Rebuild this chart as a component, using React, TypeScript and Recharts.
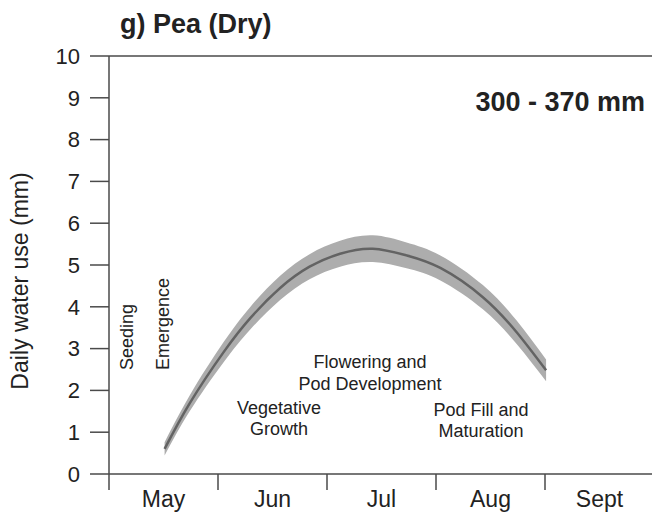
import React from "react";
import {
  ComposedChart,
  Area,
  Line,
  XAxis,
  YAxis,
  ReferenceLine,
} from "recharts";

// months along the x axis (0 = start of May)
const monthNames = ["May", "Jun", "Jul", "Aug", "Sept"];
const monthTicks = [0, 0.5, 1, 1.5, 2, 2.5, 3, 3.5, 4, 4.5, 5];
const yTicks = [0, 1, 2, 3, 4, 5, 6, 7, 8, 9, 10];

// daily water use curve
const waterX = [0.51, 0.74, 1.05, 1.3, 1.57, 1.84, 2.12, 2.42, 2.73, 3.04, 3.43, 3.74, 4.01];
const waterMean = [0.6, 1.69, 2.91, 3.74, 4.45, 4.96, 5.27, 5.39, 5.23, 4.93, 4.23, 3.39, 2.48];
const waterLow = [0.44, 1.5, 2.67, 3.47, 4.16, 4.66, 4.96, 5.07, 4.92, 4.63, 3.94, 3.11, 2.22];
const waterHigh = [0.76, 1.88, 3.15, 4.01, 4.74, 5.26, 5.58, 5.71, 5.54, 5.23, 4.52, 3.67, 2.74];

const data = waterX.map((x, i) => ({
  x,
  mean: waterMean[i],
  range: [waterLow[i], waterHigh[i]],
}));

const FONT = "'Liberation Sans', Arial, Helvetica, sans-serif";
const AXIS = "#4a4a4a";
const TEXT = "#222";

function MonthTick(props: any) {
  const { x, y, payload } = props;
  const v = payload.value as number;
  if (Number.isInteger(v)) {
    return <line x1={x} y1={y} x2={x} y2={y + 16} stroke={AXIS} strokeWidth={1.5} />;
  }
  return (
    <text x={x} y={y + 33} textAnchor="middle" fontSize={23} fill={TEXT} fontFamily={FONT}>
      {monthNames[Math.floor(v)]}
    </text>
  );
}

function YTitle() {
  return (
    <text
      transform="translate(28, 281) rotate(-90)"
      textAnchor="middle"
      fontSize={23}
      fill={TEXT}
      fontFamily={FONT}
    >
      Daily water use (mm)
    </text>
  );
}

export default function App() {
  return (
    <div
      style={{
        position: "absolute",
        left: 0,
        top: 0,
        width: 652,
        height: 516,
        overflow: "hidden",
        background: "#fff",
        fontFamily: FONT,
      }}
    >
      <ComposedChart
        width={654}
        height={516}
        data={data}
        margin={{ top: 56, right: 0, bottom: 0, left: 0 }}
      >
        <XAxis
          dataKey="x"
          type="number"
          domain={[0, 5]}
          ticks={monthTicks}
          interval={0}
          tick={<MonthTick />}
          tickLine={false}
          tickSize={0}
          tickMargin={0}
          height={42}
          axisLine={{ stroke: AXIS, strokeWidth: 1.5 }}
          allowDataOverflow
        />
        <YAxis
          type="number"
          domain={[0, 10]}
          ticks={yTicks}
          interval={0}
          width={109}
          tickSize={19}
          tickMargin={10}
          tick={{ fontSize: 22, fill: TEXT, fontFamily: FONT }}
          tickLine={{ stroke: AXIS, strokeWidth: 1.5 }}
          axisLine={{ stroke: AXIS, strokeWidth: 1.5 }}
          label={<YTitle />}
        />
        <ReferenceLine y={10} stroke={AXIS} strokeWidth={1.5} />
        <Area
          type="natural"
          dataKey="range"
          stroke="none"
          fill="#adadad"
          fillOpacity={1}
          isAnimationActive={false}
        />
        <Line
          type="natural"
          dataKey="mean"
          stroke="#636363"
          strokeWidth={2.5}
          dot={false}
          isAnimationActive={false}
        />
      </ComposedChart>
      <svg
        width={652}
        height={516}
        style={{ position: "absolute", left: 0, top: 0, pointerEvents: "none" }}
        fontFamily={FONT}
        fill={TEXT}
      >
        <text x={120} y={33} fontSize={27} fontWeight="bold">
          g) Pea (Dry)
        </text>
        <text x={645} y={111} fontSize={27} fontWeight="bold" textAnchor="end">
          300 - 370 mm
        </text>
        <text transform="translate(133, 370) rotate(-90)" fontSize={18}>
          Seeding
        </text>
        <text transform="translate(169, 370) rotate(-90)" fontSize={18}>
          Emergence
        </text>
        <text x={279} y={414} fontSize={18} textAnchor="middle">
          Vegetative
        </text>
        <text x={279} y={435} fontSize={18} textAnchor="middle">
          Growth
        </text>
        <text x={370} y={368} fontSize={18} textAnchor="middle">
          Flowering and
        </text>
        <text x={370} y={390} fontSize={18} textAnchor="middle">
          Pod Development
        </text>
        <text x={481} y={416} fontSize={18} textAnchor="middle">
          Pod Fill and
        </text>
        <text x={481} y={437} fontSize={18} textAnchor="middle">
          Maturation
        </text>
      </svg>
    </div>
  );
}
